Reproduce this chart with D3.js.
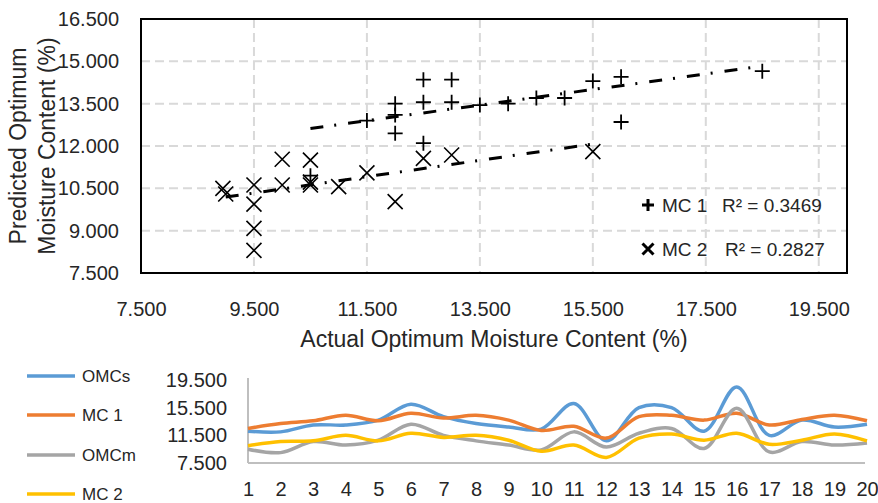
<!DOCTYPE html>
<html><head><meta charset="utf-8">
<script src="https://cdn.jsdelivr.net/npm/d3@7"></script>
<style>html,body{margin:0;padding:0;background:#fff;}svg{display:block;font-family:'Liberation Sans',Arial,sans-serif;}</style>
</head><body>
<svg id="c" width="878" height="503"></svg>
<script>
// ---- scatter data ----
const mc1X = [10.5, 11.5, 12.0, 12.0, 12.0, 12.5, 12.5, 12.5, 13.0, 13.0, 13.5, 14.0, 14.5, 15.0, 15.5, 16.0, 16.0, 18.5];
const mc1Y = [10.95, 12.9, 13.5, 13.1, 12.45, 14.35, 13.55, 12.1, 14.35, 13.55, 13.45, 13.5, 13.7, 13.7, 14.3, 14.45, 12.85, 14.65];
const mc2X = [8.95, 9.0, 9.5, 9.5, 9.5, 9.5, 10.0, 10.0, 10.5, 10.5, 10.5, 11.0, 11.5, 12.0, 12.5, 13.0, 15.5];
const mc2Y = [10.5, 10.3, 10.62, 9.94, 9.08, 8.3, 11.53, 10.62, 11.5, 10.62, 10.72, 10.56, 11.05, 10.03, 11.56, 11.68, 11.8];
const mc1Trend = [[10.5, 12.62], [18.5, 14.83]];
const mc2Trend = [[9.0, 10.19], [15.5, 12.07]];
const r2Labels = ["R\u00B2 = 0.3469", "R\u00B2 = 0.2827"];
const scatterNames = ["MC 1", "MC 2"];
const xTicks = [7.5, 9.5, 11.5, 13.5, 15.5, 17.5, 19.5];
const yTicks = [7.5, 9.0, 10.5, 12.0, 13.5, 15.0, 16.5];

// ---- line chart data ----
const idx = d3.range(1, 21);
const omcs = [12.1, 12.0, 13.0, 13.0, 13.7, 16.0, 14.2, 13.2, 12.7, 12.4, 16.1, 10.7, 15.5, 15.5, 12.1, 18.5, 11.5, 13.7, 12.7, 13.1];
const mc1 = [12.5, 13.2, 13.6, 14.4, 13.6, 14.7, 14.0, 14.4, 13.7, 12.2, 12.8, 11.1, 14.2, 14.4, 13.7, 14.7, 13.0, 13.8, 14.4, 13.6];
const omcm = [9.5, 9.0, 10.6, 10.1, 10.8, 13.1, 11.5, 10.7, 10.1, 9.4, 12.0, 9.8, 11.8, 12.5, 9.6, 15.4, 9.1, 10.6, 10.1, 10.4];
const mc2 = [10.0, 10.6, 10.7, 11.5, 10.7, 11.8, 11.2, 11.5, 10.8, 9.2, 10.1, 8.3, 11.1, 11.7, 10.8, 11.8, 10.2, 10.8, 11.7, 10.7];
const lineNames = ["OMCs", "MC 1", "OMCm", "MC 2"];
const lineColors = ["#5B9BD5", "#ED7D31", "#A5A5A5", "#FFC000"];
const lineTicks = [7.5, 11.5, 15.5, 19.5];

const svg = d3.select("#c");
const fmt = d3.format(".3f");
const txt = "#262626";

// ================= scatter =================
const x = d3.scaleLinear().domain([7.5, 20]).range([141, 847]);
const y = d3.scaleLinear().domain([7.5, 16.5]).range([273, 19]);

const grid = svg.append("g").attr("stroke", "#d9d9d9").attr("stroke-width", 2).attr("stroke-dasharray", "9,5");
xTicks.slice(1).forEach(t => grid.append("line").attr("x1", x(t)).attr("x2", x(t)).attr("y1", y(16.5)).attr("y2", y(7.5)));
yTicks.slice(1, -1).forEach(t => grid.append("line").attr("x1", x(7.5)).attr("x2", x(20)).attr("y1", y(t)).attr("y2", y(t)));

svg.append("rect").attr("x", x(7.5)).attr("y", y(16.5)).attr("width", x(20) - x(7.5)).attr("height", y(7.5) - y(16.5))
  .attr("fill", "none").attr("stroke", "#000").attr("stroke-width", 2);

const xAx = svg.append("g").attr("transform", `translate(0,${y(7.5)})`)
  .call(d3.axisBottom(x).tickValues(xTicks).tickFormat(fmt).tickSize(0).tickPadding(29));
xAx.select(".domain").remove();
xAx.selectAll("text").attr("font-size", 20).attr("fill", txt).attr("font-family", null);

const yAx = svg.append("g").attr("transform", `translate(${x(7.5)},0)`)
  .call(d3.axisLeft(y).tickValues(yTicks).tickFormat(fmt).tickSize(0).tickPadding(22));
yAx.select(".domain").remove();
yAx.selectAll("text").attr("font-size", 20).attr("fill", txt).attr("font-family", null);

svg.append("text").attr("x", 494).attr("y", 347).attr("text-anchor", "middle").attr("font-size", 23).attr("fill", txt)
  .text("Actual Optimum Moisture Content (%)");
svg.append("text").attr("transform", "translate(26,146) rotate(-90)").attr("text-anchor", "middle").attr("font-size", 23).attr("fill", txt)
  .text("Predicted Optimum");
svg.append("text").attr("transform", "translate(55,146) rotate(-90)").attr("text-anchor", "middle").attr("font-size", 23).attr("fill", txt)
  .text("Moisture Content (%)");

// trendlines
const tl = d3.line().x(d => x(d[0])).y(d => y(d[1]));
[mc1Trend, mc2Trend].forEach(t => svg.append("path").attr("d", tl(t)).attr("fill", "none").attr("stroke", "#000")
  .attr("stroke-width", 3).attr("stroke-dasharray", "13,11,2,12"));

function plus(g, cx, cy, h, w) {
  g.append("path").attr("d", `M${cx - h},${cy}H${cx + h}M${cx},${cy - h}V${cy + h}`).attr("stroke", "#000").attr("stroke-width", w).attr("fill", "none");
}
function cross(g, cx, cy, h, w) {
  g.append("path").attr("d", `M${cx - h},${cy - h}L${cx + h},${cy + h}M${cx - h},${cy + h}L${cx + h},${cy - h}`).attr("stroke", "#000").attr("stroke-width", w).attr("fill", "none");
}
const pts = svg.append("g");
mc2X.forEach((v, i) => cross(pts, x(v), y(mc2Y[i]), 7.5, 1.6));
mc1X.forEach((v, i) => plus(pts, x(v), y(mc1Y[i]), 7.5, 1.8));

// legend inside scatter
const lg = svg.append("g");
plus(lg, 648, 205, 6, 3);
cross(lg, 648, 249, 5.5, 3);
[[205, 722], [249, 725]].forEach((p, i) => {
  lg.append("text").attr("x", 662).attr("y", p[0] + 7).attr("font-size", 19).attr("fill", txt).text(scatterNames[i]);
  lg.append("text").attr("x", p[1]).attr("y", p[0] + 7).attr("font-size", 19).attr("fill", txt).text(r2Labels[i]);
});

// ================= line chart =================
const lx = d3.scalePoint().domain(idx).range([248, 867]);
const ly = d3.scaleLinear().domain([7.5, 19.5]).range([463, 380]);

svg.append("line").attr("x1", 248).attr("x2", 248).attr("y1", ly(19.5) - 2).attr("y2", ly(7.5)).attr("stroke", "#bfbfbf").attr("stroke-width", 2);
svg.append("line").attr("x1", 248).attr("x2", 865).attr("y1", ly(7.5)).attr("y2", ly(7.5)).attr("stroke", "#bfbfbf").attr("stroke-width", 2);

const lyAx = svg.append("g").attr("transform", "translate(248,0)")
  .call(d3.axisLeft(ly).tickValues(lineTicks).tickFormat(fmt).tickSize(0).tickPadding(21));
lyAx.select(".domain").remove();
lyAx.selectAll("text").attr("font-size", 20).attr("fill", txt).attr("font-family", null);

const lxAx = svg.append("g").attr("transform", `translate(0,${ly(7.5)})`)
  .call(d3.axisBottom(lx).tickSize(0).tickPadding(19));
lxAx.select(".domain").remove();
lxAx.selectAll("text").attr("font-size", 20).attr("fill", txt).attr("font-family", null);

const series = [omcs, mc1, omcm, mc2];
const ln = d3.line().x((d, i) => lx(idx[i])).y(d => ly(d)).curve(d3.curveCatmullRom.alpha(0.5));
series.forEach((s, k) => svg.append("path").attr("d", ln(s)).attr("fill", "none").attr("stroke", lineColors[k])
  .attr("stroke-width", 3.5).attr("stroke-linejoin", "round"));

const legY = [376, 415, 455, 494];
lineNames.forEach((n, k) => {
  svg.append("line").attr("x1", 27).attr("x2", 75).attr("y1", legY[k]).attr("y2", legY[k]).attr("stroke", lineColors[k]).attr("stroke-width", 3.5);
  svg.append("text").attr("x", 82).attr("y", legY[k] + 6).attr("font-size", 17).attr("fill", txt).text(n);
});
</script>
</body></html>
